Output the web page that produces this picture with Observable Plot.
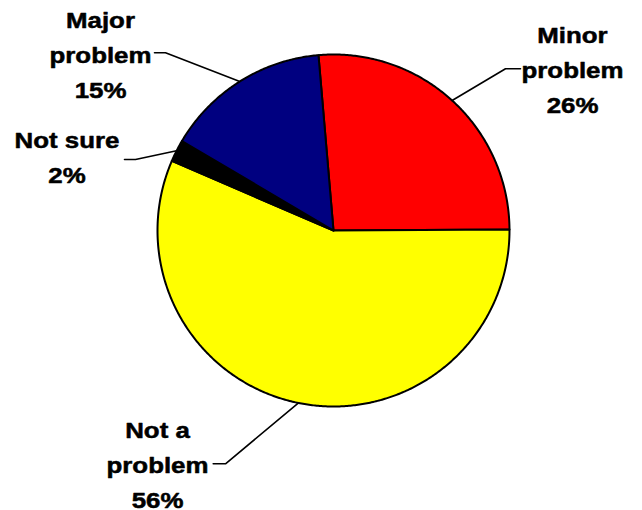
<!DOCTYPE html>
<html>
<head>
<meta charset="utf-8">
<script src="https://cdn.jsdelivr.net/npm/d3@7"></script>
<script src="https://cdn.jsdelivr.net/npm/@observablehq/plot@0.6"></script>
<style>
  html, body { margin: 0; padding: 0; background: #fff; }
  #chart svg { display: block; }
</style>
</head>
<body>
<div id="chart"></div>
<script>
// ---- Data ----
const categories = ["Minor problem", "Not a problem", "Not sure", "Major problem"];
const percents = [26, 56, 2, 15];
const labelTexts = ["Minor\nproblem\n26%", "Not a\nproblem\n56%", "Not sure\n2%", "Major\nproblem\n15%"];
const colors = ["#FF0000", "#FFFF00", "#000000", "#000080"];

// ---- Layout (pixel positions; pie centre at 333,230) ----
const CX = 333, CY = 230, R = 176, START = -4.9;
const labelLayout = [
  {cx: 572, base: 43,  hx0: 520, hx1: 505, hy: 68.3},
  {cx: 157, base: 438, hx0: 212.7, hx1: 225, hy: 463.3},
  {cx: 66.5, base: 148, hx0: 124, hx1: 135, hy: 159},
  {cx: 100, base: 28,  hx0: 154, hx1: 165, hy: 52.3}
];
const FONT = 22, LH = 1.57;

// ---- Geometry from data ----
const total = d3.sum(percents);
let acc = START;
const slices = categories.map((c, i) => {
  const a0 = acc, a1 = acc + percents[i] / total * 360;
  acc = a1;
  return {c, a0, a1, mid: (a0 + a1) / 2, color: colors[i]};
});
const pt = (deg, r) => {
  const t = deg * Math.PI / 180;
  return [r * Math.sin(t), -r * Math.cos(t)];
};
const polys = slices.map(s => {
  const pts = [[0, 0]];
  const n = Math.max(2, Math.ceil((s.a1 - s.a0) / 0.5));
  for (let k = 0; k <= n; k++) pts.push(pt(s.a0 + (s.a1 - s.a0) * k / n, R));
  pts.push([0, 0]);
  return pts;
});

const leaders = [];
slices.forEach((s, i) => {
  const L = labelLayout[i];
  const e = pt(s.mid, R);
  leaders.push({k: i, x: e[0], y: e[1]});
  leaders.push({k: i, x: L.hx1 - CX, y: L.hy - CY});
  leaders.push({k: i, x: L.hx0 - CX, y: L.hy - CY});
});

const labels = slices.map((s, i) => ({
  x: labelLayout[i].cx - CX,
  y: labelLayout[i].base - 0.71 * FONT * LH - CY,
  text: labelTexts[i]
}));

const chart = Plot.plot({
  width: 642,
  height: 510,
  margin: 0,
  x: {domain: [-CX, 642 - CX], range: [0, 642], axis: null},
  y: {domain: [-CY, 510 - CY], range: [0, 510], axis: null},
  style: {background: "#fff", overflow: "visible"},
  marks: [
    ...polys.map((p, i) => Plot.line(p, {
      x: d => d[0], y: d => d[1],
      fill: colors[i], stroke: "#000", strokeWidth: 2,
      strokeLinejoin: "round", curve: "linear"
    })),
    Plot.line(leaders, {x: "x", y: "y", z: "k", stroke: "#000", strokeWidth: 1.6, curve: "linear"}),
    Plot.text(labels, {
      x: "x", y: "y", text: "text",
      fontSize: FONT, fontWeight: "bold",
      fontFamily: "'Liberation Sans', Arial, sans-serif",
      lineHeight: LH, lineAnchor: "top", textAnchor: "middle", fill: "#000",
      stroke: "#000", strokeWidth: 0.5
    })
  ]
});

// widen the label glyphs horizontally to match the reference text width
chart.querySelectorAll('g[aria-label="text"] text').forEach(t => {
  const tr = t.getAttribute("transform") || "";
  t.setAttribute("transform", tr + " scale(1.175,1)");
});

document.getElementById("chart").appendChild(chart);
</script>
</body>
</html>
